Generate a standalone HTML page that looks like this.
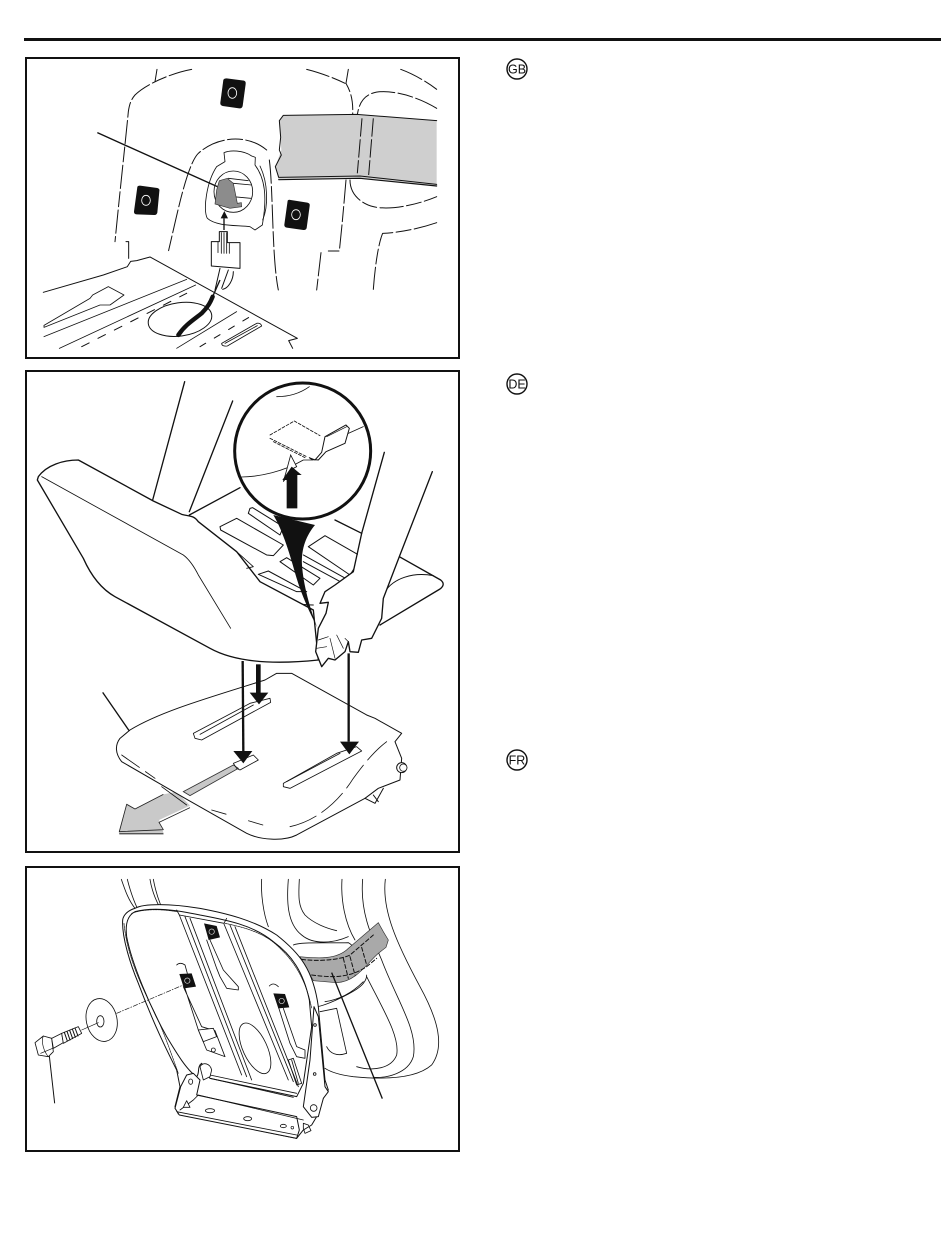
<!DOCTYPE html>
<html><head><meta charset="utf-8">
<style>
html,body{margin:0;padding:0;background:#fff;width:950px;height:1260px;overflow:hidden}
svg{display:block}
.t{fill:none;stroke:#111;stroke-linecap:round;stroke-linejoin:round}
.w{fill:#fff;stroke:#111;stroke-linejoin:round;stroke-linecap:round}
</style></head><body>
<svg xmlns="http://www.w3.org/2000/svg" width="950" height="1260" viewBox="0 0 950 1260">
<rect width="950" height="1260" fill="#fff"/>
<rect x="24" y="38" width="917" height="3" fill="#111"/>
<rect x="26" y="58" width="433" height="300" fill="none" stroke="#111" stroke-width="2"/>
<rect x="26" y="371" width="433" height="481" fill="none" stroke="#111" stroke-width="2"/>
<rect x="26" y="867" width="433" height="284" fill="none" stroke="#111" stroke-width="2"/>

<!-- Panel 1 -->
<g transform="translate(20,50) scale(.33333)">
<g class="t" stroke-width="3" stroke-dasharray="70 10 45 10">
<path d="M411 58L405 95M515 58C460 68 380 100 345 135C332 150 328 165 325 185C318 260 300 420 285 575"/>
<path d="M860 58C900 68 945 85 975 100"/>
<path d="M985 58L978 100C992 125 1000 150 998 195"/>
<path d="M1142 58C1180 72 1220 95 1250 118"/>
<path d="M1250 175C1200 145 1140 125 1090 125C1040 125 1018 150 1012 195"/>
<path d="M990 390C990 430 1020 460 1060 470C1110 482 1190 465 1250 440"/>
<path d="M1250 518C1200 535 1140 548 1088 550C1075 580 1065 650 1060 718"/>
<path d="M978 390C972 460 965 540 958 603H925M903 608L890 720"/>
<path d="M740 300C680 250 590 260 535 310C500 345 470 500 445 605"/>
<path d="M748 330C760 420 755 620 775 720"/>
</g>
<path class="t" stroke-width="3" d="M318 575H326V625"/>
<!-- bolts -->
<g fill="#111">
<path d="M610 90Q612 85 620 85L672 92Q678 94 677 102L668 168Q666 176 658 175L608 168Q600 166 601 158Z"/>
<path d="M352 411Q353 407 360 407L412 414Q420 416 418 424L412 488Q410 496 402 495L350 493Q341 492 342 484Z"/>
<path d="M803 452Q805 448 812 450L862 458Q871 460 869 468L860 534Q858 541 850 540L800 533Q792 531 793 524Z"/>
</g>
<g fill="none" stroke="#fff" stroke-width="2.5"><ellipse cx="637" cy="129" rx="13" ry="16"/><ellipse cx="378" cy="451" rx="13" ry="15"/><ellipse cx="828" cy="494" rx="13" ry="15"/></g>
<!-- belt -->
<path d="M778 212L790 196L1000 192L1250 212V408L1020 386L776 390L766 350L784 300Z" fill="#cfcfcf"/>
<path class="t" stroke-width="3" d="M1250 212L1010 193L790 196L778 212L782 262L778 300L784 315L766 350L776 382L1020 378L1250 403"/>
<path class="t" stroke-width="3.5" d="M776 389L1020 385L1250 408"/>
<path d="M1026 205L1012 370M1060 205L1046 375" stroke="#111" stroke-width="3" fill="none" stroke-dasharray="55 8"/>
<!-- socket -->
<path class="w" stroke-width="2.5" d="M612 308C630 300 670 300 695 318L706 322L705 345C735 385 742 440 727 525L705 540L690 530C650 525 590 530 562 505C548 480 560 395 590 350L615 335Z"/>
<path class="t" stroke-width="2.5" d="M720 348C745 400 745 470 728 510"/>
<ellipse cx="640" cy="425" rx="58" ry="62" class="w" stroke-width="2.5"/>
<path class="t" stroke-width="2.5" d="M640 400L695 405M640 440L692 445M625 385L685 392"/>
<path d="M598 392L622 385L640 400L652 460L664 458L665 470L630 475L585 462L590 420Z" fill="#8c8c8c" stroke="#333" stroke-width="2"/>
<path d="M232 248L592 410" stroke="#111" stroke-width="4" fill="none"/>
<path d="M612 540V505" stroke="#111" stroke-width="4"/><path d="M602 505L613 483L624 505Z" fill="#111"/>
<!-- connector -->
<path class="w" stroke-width="3" d="M598 545H622V578H660V655L574 648V575H598Z"/>
<path class="t" stroke-width="2.5" d="M604 548V610M612 548V610M620 548V610M594 575V608M628 580V610"/>
<path class="t" stroke-width="3" d="M600 655L585 720M625 660L605 715M640 665C640 690 625 715 608 718"/>
<!-- plate -->
<path class="t" stroke-width="3" d="M70 727L250 675L322 650L332 634L350 632L390 621L832 865L806 872L818 895"/>
<path class="t" stroke-width="2.5" d="M72 826L210 745L218 735L265 710L312 735L270 765L240 765L72 832Z"/>
<path class="t" stroke-width="2.5" d="M72 860L500 688M118 895L527 705"/>
<path class="t" stroke-width="3" d="M185 890L500 730" stroke-dasharray="25 30"/>
<path class="t" stroke-width="2.5" d="M470 895L650 785"/>
<path class="t" stroke-width="3" d="M540 890L690 800" stroke-dasharray="20 30"/>
<ellipse cx="480" cy="808" rx="96" ry="50" transform="rotate(-8 480 808)" class="w" stroke-width="3"/>
<path class="t" stroke-width="2.5" d="M605 880L710 820Q722 818 725 828L622 888Q605 890 605 880ZM615 880L712 827"/>
<path d="M475 855C495 825 520 810 545 790C565 770 572 755 578 740" fill="none" stroke="#111" stroke-width="13" stroke-linecap="round"/>
<path d="M578 740L600 690" fill="none" stroke="#111" stroke-width="4"/>
</g>

<!-- Panel 2 -->
<g transform="translate(20,365) scale(.33333)">
<path class="t" stroke-width="4" d="M494 50L398 405M638 108L508 440"/>
<!-- far seat back -->
<path d="M508 450L660 368L950 460L1025 505L1270 645Q1275 660 1260 672L1080 780L880 720L700 640Z" fill="#fff"/>
<path class="t" stroke-width="4" d="M508 450L660 368M945 465L1025 505M1138 575L1262 645Q1278 658 1260 672L1080 780"/>
<path class="t" stroke-width="3" d="M1095 680C1120 640 1180 620 1240 632"/>
<path class="w" stroke-width="3" d="M690 430L698 428L790 485L780 510L685 445ZM600 485L650 460L790 540L760 572L740 570L602 495ZM865 545L915 512L1025 575L990 630ZM780 590L800 578L900 640L880 660ZM715 628L745 618L860 680L830 680Z"/>
<path class="t" stroke-width="3" d="M850 570L985 645M850 590L970 655"/>
<path class="t" stroke-width="3" d="M700 640C730 680 800 720 880 720"/>
<!-- seat -->
<path class="w" stroke-width="4" d="M55 335C80 300 130 285 175 285L400 408L485 448C510 455 520 450 535 470L650 560L720 650L880 735L895 885C800 895 660 900 570 850L285 695C240 670 210 625 190 580L52 345Z"/>
<path class="t" stroke-width="2.5" d="M65 335L490 570C510 585 525 610 535 630L632 790"/>
<path class="t" stroke-width="2.5" d="M650 560L700 605L680 610"/>
<!-- forearms / hand -->
<path d="M1093 262L1000 620L945 660L915 680L900 715L925 712L918 745L895 790L887 860L905 905L925 880L945 885L975 860L985 830L990 860L1015 862L1025 825L1055 820L1085 760L1090 700L1138 575L1237 320Z" fill="#fff"/>
<path class="t" stroke-width="4" d="M1093 262L1025 505L1000 620L945 660L915 680L900 715L925 712L918 745L895 790L887 860L905 905L925 880L945 885L975 860L985 830L990 860L1015 862L1025 825L1055 820L1085 760L1090 700L1138 575L1237 320"/>
<path class="t" stroke-width="2" d="M895 825L925 815M890 850L920 845M930 820L945 880M950 810L970 850M975 820L985 830"/>
<!-- magnifier -->
<path d="M760 450C790 500 810 570 830 640C845 690 870 745 892 788C870 730 850 660 846 600C843 550 860 510 885 480Z" fill="#111"/>
<circle cx="848" cy="258" r="204" fill="#fff" stroke="#111" stroke-width="9"/>
<path class="t" stroke-width="2.5" d="M665 336C720 335 790 320 850 285L880 285M1030 185L985 205"/>
<path class="t" stroke-width="2.5" d="M770 95C810 95 840 85 868 65"/>
<path class="w" stroke-width="3" d="M868 278L885 285L905 262L915 215L978 180L988 190L975 235L918 260L895 285L875 283Z"/>
<path class="t" stroke-width="2" d="M920 215L980 185"/>
<path class="t" stroke-width="2.5" stroke-dasharray="9 5" d="M750 210L823 168L900 212M750 220L860 275M760 230L855 278"/>
<path d="M790 350L800 315L812 270L830 305L820 310Z" fill="#fff" stroke="#111" stroke-width="2.5"/>
<path d="M800 430V345H787L815 305L845 330H832L832 430Z" fill="#111"/>
<!-- grey arrow (beneath plate) -->
<path d="M510 1322L417 1365L432 1408H298L296 1400L320 1315L345 1332L430 1288L470 1280Z" fill="#c9c9c9"/>
<path d="M510 1328L417 1372L430 1394L298 1400L320 1318L345 1332L430 1288" fill="none" stroke="#222" stroke-width="2.5" stroke-linejoin="round"/>
<path d="M298 1404H430V1408H298Z" fill="#555"/>
<!-- base plate -->
<path class="w" stroke-width="3" d="M330 1095C420 1040 560 1000 735 945L770 925L815 925L1040 1050L1065 1060L1145 1105L1125 1130L1145 1180L1140 1245L1075 1270L1035 1300L830 1410C790 1430 720 1425 680 1405L495 1300L305 1190C285 1165 285 1140 300 1120Z"/>
<path class="t" stroke-width="2.5" stroke-dasharray="65 22" d="M305 1170L405 1240"/>
<path class="t" stroke-width="2.5" d="M425 1265L500 1320"/>
<path class="t" stroke-width="2.5" stroke-dasharray="45 70" d="M575 1335L780 1395"/>
<path class="t" stroke-width="2.5" stroke-dasharray="85 20" d="M810 1385C880 1370 950 1320 1000 1240C1030 1200 1060 1160 1100 1130"/>
<path class="w" stroke-width="2.5" d="M520 1105L690 1015L750 1000L752 1012L545 1125L525 1120Z"/>
<path class="t" stroke-width="2.5" d="M540 1108L700 1020"/>
<path d="M490 1280L640 1200L655 1210L510 1292Z" fill="#c8c8c8" stroke="#333" stroke-width="2.5"/>
<path class="t" stroke-width="2.5" d="M640 1195L700 1170L715 1185L660 1215L650 1210Z"/>
<path class="w" stroke-width="2.5" d="M790 1255L950 1165L1010 1145L1025 1158L810 1270L790 1265Z"/>
<path class="t" stroke-width="2.5" d="M800 1250L960 1165"/>
<circle cx="1145" cy="1208" r="15" class="w" stroke-width="3"/><circle cx="1150" cy="1208" r="11" class="w" stroke-width="2.5"/>
<path class="t" stroke-width="3" d="M1035 1300L1065 1315L1090 1270M1060 1290L1075 1310"/>
<!-- down arrows -->
<path d="M668 888L670 1160" stroke="#111" stroke-width="7"/>
<path d="M640 1158H697L670 1195Z" fill="#111"/>
<path d="M715 898V985" stroke="#111" stroke-width="14"/>
<path d="M689 983H745L717 1018Z" fill="#111"/>
<path d="M986 865V1130" stroke="#111" stroke-width="7"/>
<path d="M960 1130H1017L988 1168Z" fill="#111"/>
<path d="M248 982L328 1098" stroke="#111" stroke-width="4"/>
</g>

<!-- Panel 3 -->
<g transform="translate(20,860) scale(.33333)">
<path class="t" stroke-width="2.5" d="M304 58C315 90 325 120 345 145M322 58C330 90 338 115 352 145M390 58C395 90 405 115 418 140M400 58C405 85 412 110 422 135"/>
<path class="t" stroke-width="2.5" d="M725 58C722 100 730 160 745 200"/>
<path class="t" stroke-width="2.5" d="M805 58C800 120 800 190 845 225C880 255 940 250 985 230"/>
<path class="t" stroke-width="2.5" d="M838 58C835 110 835 140 855 165C880 190 920 205 950 212"/>
<path class="t" stroke-width="2.5" d="M966 58C962 120 975 190 1005 240"/>
<path class="t" stroke-width="2.5" d="M1028 58C1020 150 1050 220 1085 300C1130 420 1195 510 1180 590C1165 640 1100 655 1060 652"/>
<path class="t" stroke-width="2.5" d="M1096 58C1085 150 1130 250 1200 380C1255 480 1275 560 1235 615C1190 655 1100 660 1000 650C960 645 930 635 915 625"/>
<path class="t" stroke-width="2.5" d="M1040 350C1090 450 1140 530 1130 585C1115 625 1060 635 1010 620"/>
<path class="t" stroke-width="2.5" d="M820 255C840 245 920 250 985 248C1005 260 1005 275 990 285"/>
<path class="t" stroke-width="2.5" d="M1040 345C1040 375 1000 395 970 410C930 430 900 440 890 440M1030 365C990 405 950 420 915 425"/>
<path class="t" stroke-width="2.5" d="M900 455L950 445L980 580C950 590 930 580 920 560"/>
<!-- strap -->
<path d="M840 290C890 295 950 300 985 265L1075 188L1090 215L1105 240L1098 262L1075 280C1040 310 1010 365 950 368L880 362Z" fill="#a9a9a9" stroke="#333" stroke-width="2"/>
<path class="t" stroke-width="3" stroke-dasharray="12 7" d="M845 298C890 305 960 300 990 285L1060 225M875 345C920 350 980 360 1040 320L1070 295"/>
<path class="t" stroke-width="3" stroke-dasharray="12 7" d="M970 295L985 355M990 290L1005 345M1025 262L1040 315"/>
<!-- frame -->
<path class="w" stroke-width="3" d="M345 145C370 130 450 130 540 145C620 160 700 180 770 225C840 280 880 330 895 440L915 660L925 690L915 700L890 770L875 795L850 810L830 835L475 762L465 740L480 680L470 630C440 570 400 490 355 370C330 310 305 230 308 180C310 165 325 150 345 145Z"/>
<path d="M345 155C400 140 470 150 540 165C620 180 700 195 760 245C815 285 850 335 868 420L875 500L850 670L830 710L570 655L545 610C530 620 540 640 530 650C500 630 470 580 440 530C390 440 335 310 320 230C315 190 325 165 345 155Z" fill="#fff" stroke="#111" stroke-width="3" stroke-linejoin="round"/>
<path class="t" stroke-width="2" d="M335 160C375 145 430 148 470 155M615 190C690 205 740 225 775 260C830 310 860 370 875 445M312 190C320 280 360 370 400 450C430 510 455 585 475 640" stroke-dasharray="6 2"/>
<path class="t" stroke-width="2.5" d="M470 150L478 165L612 190L620 175"/>
<!-- ribs -->
<path class="t" stroke-width="2.5" d="M478 165L665 645M495 170L680 650M510 175L695 660M612 192L805 660M630 195L820 665M645 200L835 680"/>
<path class="t" stroke-width="2.5" d="M570 645L830 700M570 655L820 712"/>
<!-- slots -->
<path class="t" stroke-width="2.5" d="M570 240L610 330L655 380V390L620 385L600 350L590 325L560 240"/>
<path class="t" stroke-width="2.5" d="M470 315Q480 305 495 315L502 340M490 380L545 500L585 512L615 590L560 570L535 510L495 385"/>
<path class="t" stroke-width="2.5" d="M748 378Q760 365 775 380M790 445L830 560L855 570V595L830 590L810 550L775 440"/>
<ellipse cx="705" cy="565" rx="36" ry="82" transform="rotate(-25 705 565)" class="w" stroke-width="2.5"/>
<path class="t" stroke-width="2.5" d="M805 600L820 595L845 670L830 675ZM815 600L835 670"/>
<circle cx="580" cy="570" r="6" class="t" stroke-width="2.5"/>
<path class="w" stroke-width="2.5" d="M535 510L580 505L590 530L550 545Z"/>
<!-- bolts on slots -->
<g fill="#111">
<path d="M552 190L590 198L600 232L566 240Z"/>
<path d="M478 342L515 340L528 380L492 385Z"/>
<path d="M760 400L795 402L808 442L775 445Z"/>
</g>
<g fill="none" stroke="#ddd" stroke-width="2"><circle cx="575" cy="215" r="8"/><circle cx="502" cy="362" r="8"/><circle cx="785" cy="423" r="8"/></g>
<!-- bottom bracket -->
<path class="w" stroke-width="3" d="M478 765L465 745L482 680L500 645L520 640L540 660L530 705L830 770L838 810L830 835Z"/>
<path class="t" stroke-width="2.5" d="M480 750L520 720L535 705L850 780M470 755L830 825"/>
<ellipse cx="512" cy="665" rx="6" ry="8" class="t" stroke-width="2.5"/>
<path class="w" stroke-width="2.5" d="M490 742L500 722L510 742Z"/>
<ellipse cx="570" cy="752" rx="14" ry="6" class="t" stroke-width="2.5"/><ellipse cx="683" cy="776" rx="12" ry="6" class="t" stroke-width="2.5"/><ellipse cx="790" cy="798" rx="9" ry="5" class="t" stroke-width="2.5"/><circle cx="817" cy="803" r="4" class="t" stroke-width="2"/>
<!-- right hinge -->
<path class="w" stroke-width="3" d="M882 440L895 470L915 680L925 695L910 715L895 770L875 772L850 740L870 600Z"/>
<circle cx="885" cy="495" r="4" class="t" stroke-width="2.5"/><circle cx="884" cy="642" r="4" class="t" stroke-width="2.5"/><circle cx="881" cy="744" r="10" class="t" stroke-width="2.5"/>
<path class="t" stroke-width="2.5" d="M850 790L865 795L873 812L855 820L850 805Z"/>
<path class="w" stroke-width="2.5" d="M540 620C550 605 570 610 575 630L570 650L550 660Z"/>
<!-- washer and bolt -->
<ellipse cx="245" cy="480" rx="46" ry="65" transform="rotate(-12 245 480)" class="w" stroke-width="2.5"/>
<ellipse cx="241" cy="484" rx="11" ry="17" class="t" stroke-width="2.5"/>
<path class="t" stroke-width="2" stroke-dasharray="14 5 3 5" d="M290 460L490 375"/>
<path class="t" stroke-width="2" d="M185 510L235 488"/>
<path class="w" stroke-width="2.5" d="M45 548L70 528L95 535L100 575L85 590L55 585Z"/>
<path class="t" stroke-width="2" d="M70 528C62 545 72 575 85 590M62 580L98 565"/>
<path class="w" stroke-width="2.5" d="M95 535L125 520L130 548L100 565Z"/>
<path class="w" stroke-width="2.5" d="M125 520L175 500L185 520L130 550Z"/>
<path class="t" stroke-width="3" d="M133 517L142 543M141 514L150 540M149 511L158 536M157 507L166 532M165 504L174 528"/>
<!-- leaders -->
<path d="M88 588L104 730" stroke="#111" stroke-width="3"/>
<path d="M935 338L1087 716" stroke="#111" stroke-width="4"/>
</g>

<!-- language badges -->
<g font-family="'Liberation Sans',sans-serif" font-size="12.5" text-anchor="middle" fill="#111">
<circle cx="517" cy="69" r="10" fill="#fff" stroke="#111" stroke-width="1.4"/><text x="517" y="73.5">GB</text>
<circle cx="517" cy="384" r="10" fill="#fff" stroke="#111" stroke-width="1.4"/><text x="517" y="388.5">DE</text>
<circle cx="517" cy="760" r="10" fill="#fff" stroke="#111" stroke-width="1.4"/><text x="517" y="764.5">FR</text>
</g>
</svg>
</body></html>
